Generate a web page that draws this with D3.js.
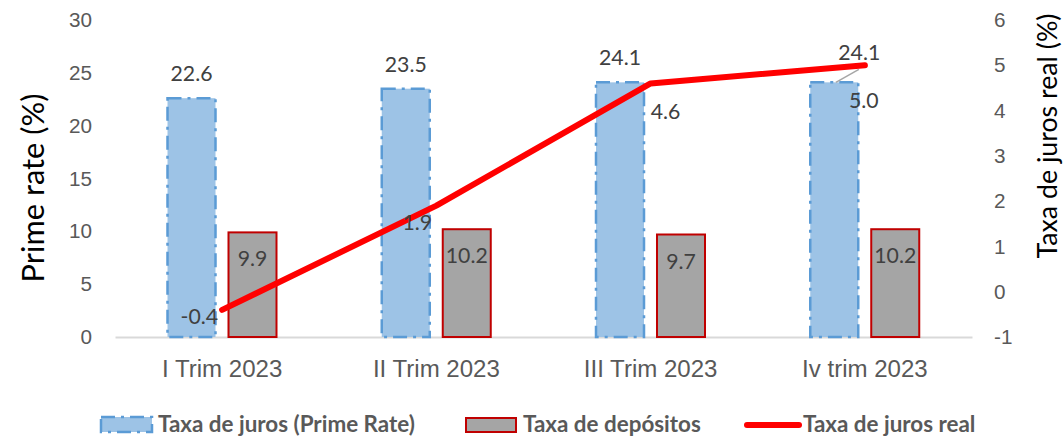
<!DOCTYPE html>
<html>
<head>
<meta charset="utf-8">
<script src="https://cdn.jsdelivr.net/npm/d3@7"></script>
<style>
  body { margin: 0; background: #fff; }
  svg { display: block; font-family: Lato, "Open Sans", sans-serif; }
  .tick text { fill: #595959; }
  .val { fill: #404040; }
</style>
</head>
<body>
<svg class="chart" width="1064" height="436"></svg>
<script>
var categories = ["I Trim 2023", "II Trim 2023", "III Trim 2023", "Iv trim 2023"]
var primeRate = [22.6, 23.5, 24.1, 24.1]
var depositos = [9.9, 10.2, 9.7, 10.2]
var jurosReal = [-0.4, 1.9, 4.6, 5.0]
var leftTicks = [0, 5, 10, 15, 20, 25, 30]
var rightTicks = [-1, 0, 1, 2, 3, 4, 5, 6]

var svg = d3.select(".chart")

// pick a font size so a sample string gets the width measured in the reference
function sizeFor(str, width, weight) {
    var t = svg.append("text").style("font-size", "20px").attr("font-weight", weight || "normal").text(str)
    var w = t.node().getComputedTextLength()
    t.remove()
    return (20 * width / w).toFixed(2) + "px"
}
var fsTick = sizeFor("30", 24)
var fsVal = sizeFor("22.6", 42)
var fsCat = sizeFor("I Trim 2023", 120)
var fsTitleL = sizeFor("Prime rate (%)", 189)
var fsTitleR = sizeFor("Taxa de juros real (%)", 245)
var fsLeg = sizeFor("Taxa de juros (Prime Rate)", 257, "bold")

var x0 = d3.scaleBand()
    .domain(categories)
    .range([115, 972])

var x1 = d3.scaleBand()
    .domain(["prime", "dep"])
    .range([52.5, 161.5])
    .paddingInner(0.213)

var yL = d3.scaleLinear().domain([0, 30]).range([337, 20])
var yR = d3.scaleLinear().domain([-1, 6]).range([337, 20])

// axes, no lines, only labels
var axL = svg.append("g")
    .attr("transform", "translate(101,0)")
    .call(d3.axisLeft(yL).tickValues(leftTicks).tickSize(0).tickPadding(9))
axL.select(".domain").remove()

var axR = svg.append("g")
    .attr("transform", "translate(985,0)")
    .call(d3.axisRight(yR).tickValues(rightTicks).tickFormat(function(d) { return String(d) }).tickSize(0).tickPadding(9))
axR.select(".domain").remove()

var axX = svg.append("g")
    .attr("transform", "translate(0,337)")
    .call(d3.axisBottom(x0).tickSize(0).tickPadding(23))
axX.select(".domain").attr("stroke", "#d9d9d9").attr("stroke-width", 2)

svg.selectAll(".tick text").attr("font-family", null).style("font-size", fsTick)
axX.selectAll("text").style("font-size", fsCat)

// axis titles
svg.append("text")
    .attr("transform", "translate(44,188) rotate(-90)")
    .attr("text-anchor", "middle")
    .style("font-size", fsTitleL)
    .attr("fill", "#000")
    .text("Prime rate (%)")

svg.append("text")
    .attr("transform", "translate(1057,136) rotate(-90)")
    .attr("text-anchor", "middle")
    .style("font-size", fsTitleR)
    .attr("fill", "#000")
    .text("Taxa de juros real (%)")

// bars
var groups = svg.selectAll(".grp")
    .data(categories)
    .enter()
    .append("g")
    .attr("transform", function(d) { return "translate(" + x0(d) + ",0)" })

groups.append("rect")
    .attr("x", x1("prime"))
    .attr("width", x1.bandwidth())
    .attr("y", function(d, i) { return yL(primeRate[i]) })
    .attr("height", function(d, i) { return yL(0) - yL(primeRate[i]) })
    .attr("fill", "#9dc3e6")
    .attr("stroke", "#5b9bd5")
    .attr("stroke-width", 2.5)
    .attr("stroke-dasharray", "14,6,3,6")

groups.append("rect")
    .attr("x", x1("dep"))
    .attr("width", x1.bandwidth())
    .attr("y", function(d, i) { return yL(depositos[i]) })
    .attr("height", function(d, i) { return yL(0) - yL(depositos[i]) })
    .attr("fill", "#a5a5a5")
    .attr("stroke", "#c00000")
    .attr("stroke-width", 2)

// bar labels
var primeNudge = [[0, 0], [0, 0], [0, 0], [25, -5]]
groups.append("text")
    .attr("class", "val")
    .style("font-size", fsVal)
    .attr("text-anchor", "middle")
    .attr("x", function(d, i) { return x1("prime") + x1.bandwidth() / 2 + primeNudge[i][0] })
    .attr("y", function(d, i) { return yL(primeRate[i]) - 17 + primeNudge[i][1] })
    .text(function(d, i) { return primeRate[i].toFixed(1) })

groups.append("text")
    .attr("class", "val")
    .style("font-size", fsVal)
    .attr("text-anchor", "middle")
    .attr("x", x1("dep") + x1.bandwidth() / 2)
    .attr("y", function(d, i) { return yL(depositos[i]) + 34 })
    .text(function(d, i) { return depositos[i].toFixed(1) })

// line
var cx = function(i) { return x0(categories[i]) + x0.bandwidth() / 2 }
var line = d3.line()
    .x(function(d, i) { return cx(i) })
    .y(function(d) { return yR(d) })

// leader line for the last label
svg.append("line")
    .attr("x1", cx(3) - 29).attr("y1", yR(5.0) + 17)
    .attr("x2", cx(3) - 6).attr("y2", yR(5.0) + 4)
    .attr("stroke", "#a6a6a6")
    .attr("stroke-width", 1.5)

svg.append("path")
    .datum(jurosReal)
    .attr("d", line)
    .attr("fill", "none")
    .attr("stroke", "#ff0000")
    .attr("stroke-width", 6)
    .attr("stroke-linecap", "round")
    .attr("stroke-linejoin", "round")

var lineNudge = [[-4, 14, "end"], [-34, 24, "start"], [0, 36, "start"], [-16, 43, "start"]]
svg.selectAll(".lbl")
    .data(jurosReal)
    .enter()
    .append("text")
    .attr("class", "val")
    .style("font-size", fsVal)
    .attr("text-anchor", function(d, i) { return lineNudge[i][2] })
    .attr("x", function(d, i) { return cx(i) + lineNudge[i][0] })
    .attr("y", function(d, i) { return yR(d) + lineNudge[i][1] })
    .text(function(d) { return d.toFixed(1) })

// legend
var legend = svg.append("g").attr("font-weight", "bold").style("font-size", fsLeg).attr("fill", "#595959")

legend.append("rect")
    .attr("x", 101).attr("y", 417).attr("width", 51).attr("height", 15)
    .attr("fill", "#9dc3e6").attr("stroke", "#5b9bd5").attr("stroke-width", 2.5)
    .attr("stroke-dasharray", "14,6,3,6")
legend.append("text").attr("x", 158).attr("y", 432).text("Taxa de juros (Prime Rate)")

legend.append("rect")
    .attr("x", 466).attr("y", 418).attr("width", 50).attr("height", 14)
    .attr("fill", "#a5a5a5").attr("stroke", "#c00000").attr("stroke-width", 2)
legend.append("text").attr("x", 523).attr("y", 432).text("Taxa de depósitos")

legend.append("line")
    .attr("x1", 747).attr("x2", 799).attr("y1", 425).attr("y2", 425)
    .attr("stroke", "#ff0000").attr("stroke-width", 6).attr("stroke-linecap", "round")
legend.append("text").attr("x", 803).attr("y", 432).text("Taxa de juros real")
</script>
</body>
</html>
